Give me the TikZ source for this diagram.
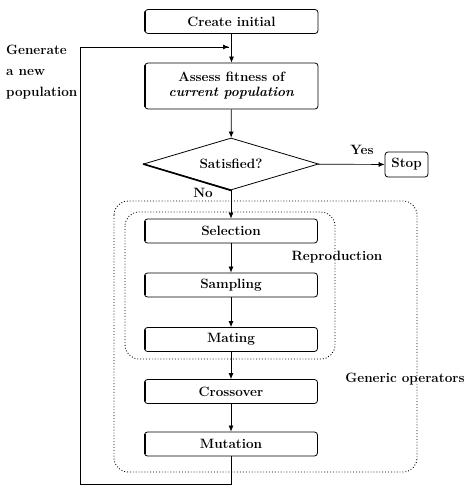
\documentclass[tikz,border=0pt]{standalone}
\usetikzlibrary{shapes.geometric,arrows.meta}
\begin{document}
\begin{tikzpicture}[x=1pt,y=-1pt,
  font=\fontsize{13.5}{15}\selectfont\bfseries,
  box/.style={draw,rounded corners=3pt,line width=0.8pt,minimum width=173pt,minimum height=24pt,inner sep=1pt,align=center},
  arr/.style={line width=0.7pt,-{Latex[length=6pt,width=5pt]}},
  thick edge/.style={line width=2pt,line cap=round},
  dotbox/.style={draw,line width=0.9pt,dotted,rounded corners=14pt}]
\useasboundingbox (0,0) rectangle (464,494);
\node[box] (create) at (231.5,21.5) {Create initial};
\node[box,minimum height=46pt,align=center] (assess) at (231.5,86) {Assess fitness of\\ \textit{current population}};
\node[draw,diamond,line width=0.8pt,minimum width=175pt,minimum height=52pt,inner sep=0pt] (sat) at (231,164) {};
\node (sattext) at (sat.center) {Satisfied?};
\node[box,minimum width=43pt,minimum height=25pt] (stop) at (406.5,164.5) {Stop};
\node[box] (sel) at (231,231) {Selection};
\node[box] (samp) at (231,285) {Sampling};
\node[box] (mat) at (231,339.5) {Mating};
\node[box] (cross) at (231,391.5) {Crossover};
\node[box] (mut) at (231,444) {Mutation};
\foreach \n in {create,assess,sel,samp,mat,cross,mut}{
  \draw[thick edge] ([xshift=0.5pt,yshift=-3pt]\n.north west) -- ([xshift=0.5pt,yshift=3pt]\n.south west);
}
\draw[line width=1.6pt] (sat.west) -- (sat.south);
\draw[dotbox] (114,201) rectangle (417,472);
\draw[dotbox] (125,212) rectangle (335,359);
\node (repro) at (337,257) {Reproduction};
\node (gen) at (405,379) {Generic operators};
\node (yes) at (362,150) {Yes};
\node (no) at (203,193) {No};
\node[align=left,anchor=north west,inner sep=0pt,font=\fontsize{13.5}{21}\selectfont\bfseries] (genpop) at (6,45) {Generate\\a new\\population};
\coordinate (f1) at (231,484);
\coordinate (f2) at (80,484);
\coordinate (f3) at (80,47);
\coordinate (f4) at (229,47);
\draw[arr] (create) -- (assess);
\draw[arr] (assess) -- (sat);
\draw[arr] (sat) -- (stop);
\draw[arr] (sat) -- (sel);
\draw[arr] (sel) -- (samp);
\draw[arr] (samp) -- (mat);
\draw[arr] (mat) -- (cross);
\draw[arr] (cross) -- (mut);
\draw[line width=0.7pt] (mut.south) -- (f1) -- (f2) -- (f3) -- (f4);
\draw[arr] (f3) -- (f4);
\end{tikzpicture}
\end{document}
